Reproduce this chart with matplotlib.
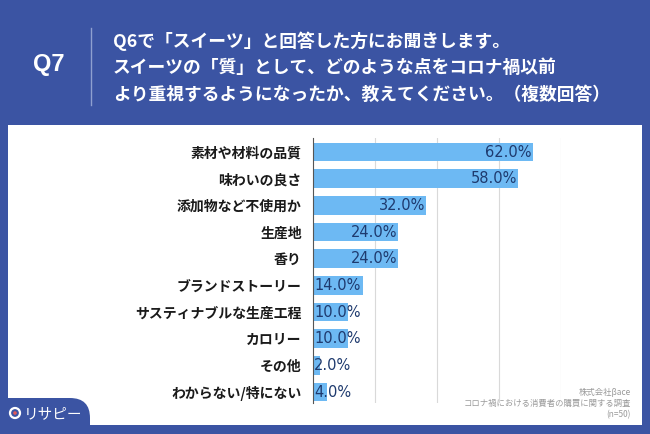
import matplotlib
matplotlib.use("Agg")
import matplotlib.pyplot as plt
from matplotlib.patches import Rectangle, FancyBboxPatch, Circle

plt.rcParams['font.family'] = ['Noto Sans CJK JP', 'DejaVu Sans']

categories = ["素材や材料の品質", "味わいの良さ", "添加物など不使用か", "生産地", "香り",
              "ブランドストーリー", "サスティナブルな生産工程", "カロリー", "その他", "わからない/特にない"]
values = [62.0, 58.0, 32.0, 24.0, 24.0, 14.0, 10.0, 10.0, 2.0, 4.0]
grid_ticks = [17.5, 35.0, 52.5, 70.0]

question = ["Q6で「スイーツ」と回答した方にお聞きします。",
            "スイーツの「質」として、どのような点をコロナ禍以前",
            "より重視するようになったか、教えてください。（複数回答）"]
notes = ["株式会社βace", "コロナ禍における消費者の購買に関する調査", "(n=50)"]

BLUE = "#3B54A3"
BAR = "#6DB9F3"
VAL = "#1E3A6E"

W, H = 650, 434
fig = plt.figure(figsize=(W / 100, H / 100), dpi=100)
fig.patch.set_facecolor(BLUE)
inch = fig.dpi_scale_trans

def px(x, y):
    # pixel coords from top-left -> inches from bottom-left
    return x / 100, (H - y) / 100

# white panel
fig.patches.append(Rectangle(px(8, 425), 634 / 100, 300 / 100, transform=inch,
                             facecolor="white", edgecolor="none", zorder=-5))

# header
fig.text(*px(49, 64), "Q7", transform=inch, color="white", fontsize=17,
         fontweight="bold", family="Liberation Sans", ha="center", va="center")
fig.lines.append(plt.Line2D([0.91, 0.91], [px(0, 28)[1], px(0, 105)[1]], transform=inch,
                            color="#8FA0D0", lw=1))
for i, line in enumerate(question):
    fig.text(*px(113, 41 + 27 * i), line, transform=inch, color="white", fontsize=12.8,
             fontweight="bold", ha="left", va="center")

# bars
ax = fig.add_axes([313 / W, (H - 403) / H, 248 / W, 265 / H])
ax.set_zorder(1)
ax.set_facecolor("none")
ypos = list(range(len(categories)))
ax.barh(ypos, values, height=0.7, color=BAR, zorder=2)
ax.set_xlim(0, 70)
ax.set_ylim(len(categories) - 1 + 0.41, -0.53)
ax.set_xticks(grid_ticks)
ax.xaxis.grid(True, color="#D9D9D9", lw=0.8, zorder=0)
ax.set_axisbelow(True)
ax.tick_params(axis="x", length=0, labelbottom=False)
ax.tick_params(axis="y", length=0, pad=8)
ax.set_yticks(ypos)
ax.set_yticklabels(categories, fontsize=10, fontweight="bold", color="#1A1A1A")
for s in ["top", "right", "bottom"]:
    ax.spines[s].set_visible(False)
ax.spines["left"].set_color("#555555")
ax.spines["left"].set_linewidth(0.8)
ax.spines["left"].set_zorder(3)

for y, v in zip(ypos, values):
    label = f"{v:.1f}%"
    if v >= 20:
        ax.text(v - 0.3, y, label, ha="right", va="center", fontsize=10.5,
                color=VAL, family="DejaVu Sans", zorder=4)
    else:
        ax.text(0.3, y, label, ha="left", va="center", fontsize=10.5,
                color=VAL, family="DejaVu Sans", zorder=4)

# footnotes
for i, n in enumerate(notes):
    fig.text(*px(631, 392 + 11.5 * i), n, transform=inch, color="#9A9A9A",
             fontsize=6, ha="right", va="center")

# logo tab
fig.patches.append(FancyBboxPatch(px(-40, 434 + 20), 1.30, 0.56, transform=inch,
                                  boxstyle="round,pad=0,rounding_size=0.2",
                                  facecolor=BLUE, edgecolor="none", zorder=5))
fig.patches.append(Circle(px(15, 413), 0.05, transform=inch, facecolor="none",
                          edgecolor="white", lw=1.6, zorder=6))
fig.patches.append(Circle(px(15, 413), 0.018, transform=inch, facecolor="#E05A5A",
                          edgecolor="none", zorder=7))
fig.text(*px(24, 414), "リサピー", transform=inch, color="white", fontsize=10.5,
         ha="left", va="center", zorder=7)

fig.savefig("out.png", dpi=100, facecolor=BLUE)
